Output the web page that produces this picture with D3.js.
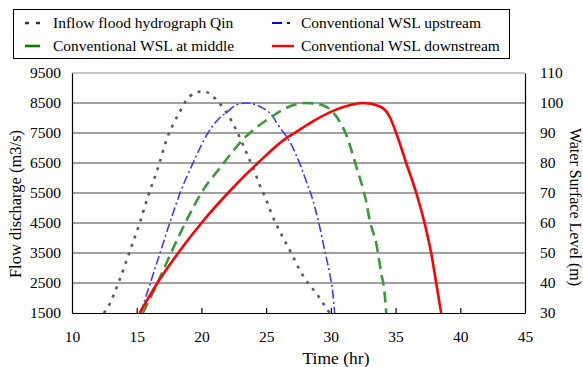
<!DOCTYPE html>
<html lang="en">
  <head>
    <meta charset="UTF-8" />
    <title>flood routing</title>
    <style type="text/css">
      body { margin: 0; background: #fff; }
      text { font-family: "Liberation Serif", "Times New Roman", serif; fill: #000; }
    </style>
  </head>
  <body>
    <div id="chart"></div>
    <script src="https://d3js.org/d3.v7.min.js"></script>
    <script>
      // data
      var qinTime = [12.45, 12.65, 13.68, 14.46, 15.23, 15.87, 16.64, 17.35, 17.8, 18.32, 19.09, 20.15, 21.27, 22.05, 22.69, 23.6, 24.1, 24.49, 25.0, 25.4, 27.07, 27.58, 29.13, 29.9];
      var qinFlow = [1500, 1610, 2610, 3553, 4500, 5387, 6333, 7333, 7777, 8200, 8720, 8890, 8553, 8110, 7600, 6720, 6220, 5777, 5277, 4830, 3387, 2943, 2000, 1500];

      var upTime = [15.3, 16.05, 16.8, 17.55, 18.35, 19.35, 20.5, 21.4, 22.05, 22.7, 23.47, 24.75, 25.52, 25.9, 26.81, 27.71, 28.1, 28.48, 29.13, 29.51, 29.9, 30.15, 30.29];
      var upWsl = [30, 40, 50, 60, 70, 80, 90, 95, 97.2, 99.4, 100, 98.3, 95.5, 92.8, 87.2, 78.6, 73.9, 69.4, 58.9, 51.1, 43.3, 36.7, 30];

      var midTime = [15.48, 16.6, 17.65, 18.75, 19.99, 21.53, 23.2, 25.13, 27.2, 28.1, 29.26, 30.67, 31.19, 31.58, 32.08, 32.47, 32.73, 32.99, 33.5, 33.89, 34.15, 34.28];
      var midWsl = [30, 40, 50, 60, 70, 78.9, 87.8, 94.6, 99.4, 100, 99.4, 93.9, 89.4, 84.4, 77.2, 71.7, 67.2, 61.1, 53.3, 43.3, 36.7, 30];

      var downTime = [15.23, 16.6, 18.2, 20.0, 22.05, 24.36, 26.56, 27.2, 28.61, 30.41, 32.47, 33.76, 34.53, 35.05, 35.82, 36.6, 37.24, 37.75, 38.14, 38.52];
      var downWsl = [30, 40, 50, 60, 70, 80, 88.3, 90, 93.9, 97.8, 100, 98.9, 95.5, 90, 80, 70, 60, 50, 40, 30];

      var flowTicks = [1500, 2500, 3500, 4500, 5500, 6500, 7500, 8500, 9500];
      var wslTicks = [30, 40, 50, 60, 70, 80, 90, 100, 110];
      var timeTicks = [10, 15, 20, 25, 30, 35, 40, 45];

      var legendNames = ["Inflow flood hydrograph Qin", "Conventional WSL upstream", "Conventional WSL at middle", "Conventional WSL downstream"];

      var W = 583, H = 367;
      var pLeft = 72, pRight = 525, pTop = 73, pBottom = 313;

      var svg = d3
        .select("#chart")
        .append("svg")
        .attr("width", W)
        .attr("height", H);

      var x = d3.scaleLinear().domain([10, 45]).range([pLeft, pRight]);
      var y = d3.scaleLinear().domain([1500, 9500]).range([pBottom, pTop]);
      var y2 = d3.scaleLinear().domain([30, 110]).range([pBottom, pTop]);

      // gridlines
      svg
        .append("g")
        .selectAll("line")
        .data(flowTicks.slice(1))
        .enter()
        .append("line")
        .attr("x1", pLeft)
        .attr("x2", pRight)
        .attr("y1", function (d) { return y(d); })
        .attr("y2", function (d) { return y(d); })
        .attr("stroke", function (d) { return d === 9500 ? "#b4b4b4" : "#808080"; })
        .attr("stroke-width", 1.3);

      // axes
      var gx = svg
        .append("g")
        .attr("transform", "translate(0," + pBottom + ")")
        .call(d3.axisBottom(x).tickValues(timeTicks).tickSizeInner(-5).tickSizeOuter(0).tickPadding(18));

      var gy = svg
        .append("g")
        .attr("transform", "translate(" + pLeft + ",0)")
        .call(d3.axisLeft(y).tickValues(flowTicks).tickFormat(d3.format("d")).tickSize(0).tickPadding(11));

      var gy2 = svg
        .append("g")
        .attr("transform", "translate(" + pRight + ",0)")
        .call(d3.axisRight(y2).tickValues(wslTicks).tickSize(0).tickPadding(15));

      [gx, gy, gy2].forEach(function (g) {
        g.selectAll("text").style("font-size", "15.5px").style("font-family", "Liberation Serif");
        g.selectAll("path, line").attr("stroke", "#000").attr("stroke-width", 1.2);
      });
      gx.selectAll(".tick").filter(function (d) { return d === 10 || d === 45; }).select("line").remove();

      // axis titles
      svg.append("text")
        .attr("x", 336)
        .attr("y", 364)
        .attr("text-anchor", "middle")
        .attr("font-size", "17.5px")
        .text("Time (hr)");

      svg.append("text")
        .attr("transform", "translate(21,204) rotate(-90)")
        .attr("text-anchor", "middle")
        .attr("font-size", "16.5px")
        .text("Flow discharge (m3/s)");

      svg.append("text")
        .attr("transform", "translate(570,207) rotate(90)")
        .attr("text-anchor", "middle")
        .attr("font-size", "16px")
        .text("Water Surface Level (m)");

      // series
      svg.append("clipPath").attr("id", "plot")
        .append("rect").attr("x", pLeft).attr("y", pTop - 5).attr("width", pRight - pLeft).attr("height", pBottom - pTop + 5);

      var series = [
        { t: qinTime, v: qinFlow, sc: y, color: "#5a5a5a", w: 2.6, dash: "3,6" },
        { t: upTime, v: upWsl, sc: y2, color: "#3b3bff", w: 1.6, dash: "9,3,2,3" },
        { t: midTime, v: midWsl, sc: y2, color: "#3a9a3a", w: 2.6, dash: "11,6" },
        { t: downTime, v: downWsl, sc: y2, color: "#ff0000", w: 2.6, dash: null }
      ];

      series.forEach(function (s) {
        var pts = s.t.map(function (t, i) { return [t, s.v[i]]; });
        var line = d3.line()
          .x(function (d) { return x(d[0]); })
          .y(function (d) { return s.sc(d[1]); })
          .curve(d3.curveMonotoneX);
        svg.append("path")
          .datum(pts)
          .attr("clip-path", "url(#plot)")
          .attr("fill", "none")
          .attr("stroke", s.color)
          .attr("stroke-width", s.w)
          .attr("stroke-dasharray", s.dash)
          .attr("d", line);
      });

      // legend
      var legend = svg.append("g");
      legend.append("rect")
        .attr("x", 13.5).attr("y", 9.5).attr("width", 496).attr("height", 49)
        .attr("fill", "#fff").attr("stroke", "#000").attr("stroke-width", 1);

      var legendPos = [[25, 23], [272, 23], [25, 46], [272, 46]];
      var legendStyle = [
        { color: "#333", dash: "4,7", len: 15, w: 2.6 },
        { color: "#0000ff", dash: "10,5,3,5", len: 18, w: 1.8 },
        { color: "#008000", dash: null, len: 15, w: 2.6 },
        { color: "#ff0000", dash: null, len: 22, w: 2.4 }
      ];
      legendNames.forEach(function (name, i) {
        var p = legendPos[i], st = legendStyle[i];
        legend.append("line")
          .attr("x1", p[0]).attr("x2", p[0] + st.len)
          .attr("y1", p[1]).attr("y2", p[1])
          .attr("stroke", st.color).attr("stroke-width", st.w)
          .attr("stroke-dasharray", st.dash);
        legend.append("text")
          .attr("x", i % 2 === 0 ? 53 : 301)
          .attr("y", p[1] + 5)
          .attr("font-size", "15.5px")
          .text(name);
      });
    </script>
  </body>
</html>
